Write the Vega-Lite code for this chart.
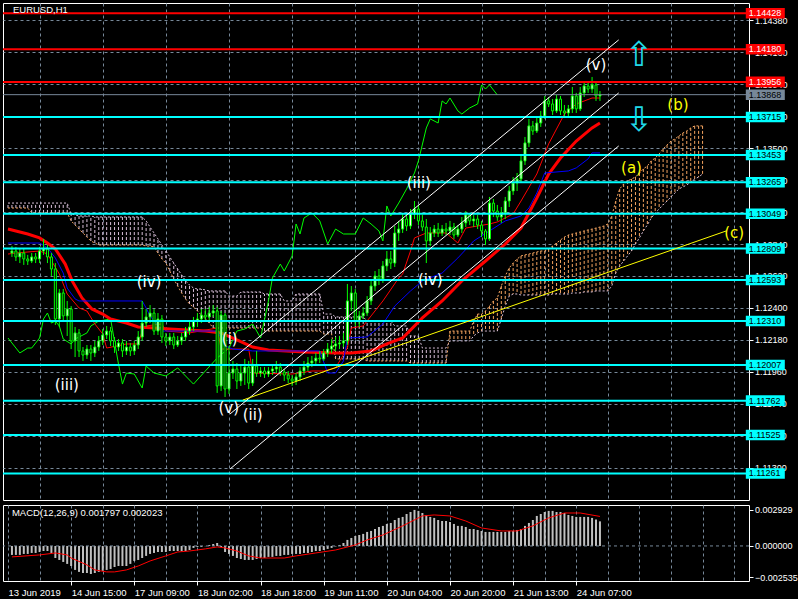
{
"$schema":"https://vega.github.io/schema/vega-lite/v6.json",
"background":"#000000",
"padding":{"left":2,"top":2,"right":0,"bottom":2},
"config":{
"view":{"stroke":"#FFFFFF","strokeWidth":1},
"axis":{"domain":false,"labelColor":"#FFFFFF","labelFont":"Liberation Sans","labelFontSize":9,"tickColor":"#FFFFFF","tickSize":4,"gridColor":"#778899","gridDash":[3,3],"gridOpacity":1,"gridWidth":1,"labelOverlap":false,"labelFlush":false,"labelBound":false},
"concat":{"spacing":3}
},
"datasets":{
"candles":[
{"i":1,"o":1.12778,"h":1.12826,"l":1.12751,"c":1.12792},{"i":2,"o":1.12792,"h":1.12820,"l":1.12723,"c":1.12751},{"i":3,"o":1.12751,"h":1.12806,"l":1.12709,"c":1.12778},{"i":4,"o":1.12778,"h":1.12806,"l":1.12696,"c":1.12737},{"i":5,"o":1.12737,"h":1.12765,"l":1.12696,"c":1.12723},{"i":6,"o":1.12723,"h":1.12778,"l":1.12709,"c":1.12751},{"i":7,"o":1.12751,"h":1.12778,"l":1.12709,"c":1.12737},{"i":8,"o":1.12737,"h":1.12820,"l":1.12709,"c":1.12792},{"i":9,"o":1.12792,"h":1.12875,"l":1.12765,"c":1.12806},{"i":10,"o":1.12806,"h":1.12833,"l":1.12709,"c":1.12751},
{"i":11,"o":1.12751,"h":1.12778,"l":1.12620,"c":1.12668},{"i":12,"o":1.12668,"h":1.12709,"l":1.12283,"c":1.12324},{"i":13,"o":1.12324,"h":1.12530,"l":1.12269,"c":1.12503},{"i":14,"o":1.12503,"h":1.12530,"l":1.12310,"c":1.12345},{"i":15,"o":1.12345,"h":1.12448,"l":1.12207,"c":1.12393},{"i":16,"o":1.12393,"h":1.12413,"l":1.12117,"c":1.12173},{"i":17,"o":1.12173,"h":1.12269,"l":1.12062,"c":1.12228},{"i":18,"o":1.12228,"h":1.12255,"l":1.12062,"c":1.12104},{"i":19,"o":1.12104,"h":1.12131,"l":1.12035,"c":1.12076},{"i":20,"o":1.12076,"h":1.12145,"l":1.12049,"c":1.12117},
{"i":21,"o":1.12117,"h":1.12145,"l":1.12035,"c":1.12090},{"i":22,"o":1.12090,"h":1.12173,"l":1.12062,"c":1.12131},{"i":23,"o":1.12131,"h":1.12207,"l":1.12104,"c":1.12173},{"i":24,"o":1.12173,"h":1.12255,"l":1.12145,"c":1.12214},{"i":25,"o":1.12214,"h":1.12276,"l":1.12186,"c":1.12241},{"i":26,"o":1.12241,"h":1.12269,"l":1.12138,"c":1.12173},{"i":27,"o":1.12173,"h":1.12200,"l":1.12090,"c":1.12131},{"i":28,"o":1.12131,"h":1.12186,"l":1.12104,"c":1.12159},{"i":29,"o":1.12159,"h":1.12186,"l":1.12062,"c":1.12104},{"i":30,"o":1.12104,"h":1.12173,"l":1.12076,"c":1.12131},
{"i":31,"o":1.12131,"h":1.12159,"l":1.12069,"c":1.12104},{"i":32,"o":1.12104,"h":1.12173,"l":1.12076,"c":1.12145},{"i":33,"o":1.12145,"h":1.12241,"l":1.12117,"c":1.12200},{"i":34,"o":1.12200,"h":1.12448,"l":1.12173,"c":1.12296},{"i":35,"o":1.12296,"h":1.12393,"l":1.12269,"c":1.12338},{"i":36,"o":1.12338,"h":1.12420,"l":1.12296,"c":1.12365},{"i":37,"o":1.12365,"h":1.12393,"l":1.12214,"c":1.12241},{"i":38,"o":1.12241,"h":1.12365,"l":1.12214,"c":1.12324},{"i":39,"o":1.12324,"h":1.12351,"l":1.12159,"c":1.12200},{"i":40,"o":1.12200,"h":1.12228,"l":1.12138,"c":1.12173},
{"i":41,"o":1.12173,"h":1.12228,"l":1.12145,"c":1.12200},{"i":42,"o":1.12200,"h":1.12228,"l":1.12117,"c":1.12145},{"i":43,"o":1.12145,"h":1.12207,"l":1.12131,"c":1.12173},{"i":44,"o":1.12173,"h":1.12228,"l":1.12145,"c":1.12200},{"i":45,"o":1.12200,"h":1.12269,"l":1.12173,"c":1.12241},{"i":46,"o":1.12241,"h":1.12310,"l":1.12214,"c":1.12269},{"i":47,"o":1.12269,"h":1.12338,"l":1.12241,"c":1.12310},{"i":48,"o":1.12310,"h":1.12365,"l":1.12269,"c":1.12324},{"i":49,"o":1.12324,"h":1.12393,"l":1.12296,"c":1.12351},{"i":50,"o":1.12351,"h":1.12393,"l":1.12310,"c":1.12338},
{"i":51,"o":1.12338,"h":1.12407,"l":1.12310,"c":1.12365},{"i":52,"o":1.12365,"h":1.12420,"l":1.12338,"c":1.12379},{"i":53,"o":1.12379,"h":1.12407,"l":1.11815,"c":1.11863},{"i":54,"o":1.11863,"h":1.12379,"l":1.11828,"c":1.12351},{"i":55,"o":1.12351,"h":1.12365,"l":1.11787,"c":1.11842},{"i":56,"o":1.11842,"h":1.12138,"l":1.11808,"c":1.11952},{"i":57,"o":1.11952,"h":1.12035,"l":1.11911,"c":1.11980},{"i":58,"o":1.11980,"h":1.12021,"l":1.11842,"c":1.11897},{"i":59,"o":1.11897,"h":1.12000,"l":1.11863,"c":1.11952},{"i":60,"o":1.11952,"h":1.12049,"l":1.11870,"c":1.11993},
{"i":61,"o":1.11993,"h":1.12035,"l":1.11842,"c":1.11883},{"i":62,"o":1.11883,"h":1.12049,"l":1.11863,"c":1.12000},{"i":63,"o":1.12000,"h":1.12104,"l":1.11925,"c":1.11952},{"i":64,"o":1.11952,"h":1.11993,"l":1.11925,"c":1.11966},{"i":65,"o":1.11966,"h":1.11993,"l":1.11918,"c":1.11945},{"i":66,"o":1.11945,"h":1.11993,"l":1.11925,"c":1.11966},{"i":67,"o":1.11966,"h":1.12007,"l":1.11938,"c":1.11980},{"i":68,"o":1.11980,"h":1.12035,"l":1.11952,"c":1.11993},{"i":69,"o":1.11993,"h":1.12021,"l":1.11932,"c":1.11959},{"i":70,"o":1.11959,"h":1.11980,"l":1.11897,"c":1.11938},
{"i":71,"o":1.11938,"h":1.11966,"l":1.11883,"c":1.11911},{"i":72,"o":1.11911,"h":1.11938,"l":1.11863,"c":1.11897},{"i":73,"o":1.11897,"h":1.11952,"l":1.11870,"c":1.11925},{"i":74,"o":1.11925,"h":1.11993,"l":1.11897,"c":1.11966},{"i":75,"o":1.11966,"h":1.12035,"l":1.11938,"c":1.11993},{"i":76,"o":1.11993,"h":1.12062,"l":1.11966,"c":1.12021},{"i":77,"o":1.12021,"h":1.12069,"l":1.11993,"c":1.12035},{"i":78,"o":1.12035,"h":1.12090,"l":1.12007,"c":1.12055},{"i":79,"o":1.12055,"h":1.12104,"l":1.12021,"c":1.12049},{"i":80,"o":1.12049,"h":1.12117,"l":1.12035,"c":1.12090},
{"i":81,"o":1.12090,"h":1.12159,"l":1.12062,"c":1.12117},{"i":82,"o":1.12117,"h":1.12186,"l":1.12090,"c":1.12138},{"i":83,"o":1.12138,"h":1.12200,"l":1.12104,"c":1.12152},{"i":84,"o":1.12152,"h":1.12207,"l":1.12117,"c":1.12159},{"i":85,"o":1.12159,"h":1.12228,"l":1.12131,"c":1.12173},{"i":86,"o":1.12173,"h":1.12565,"l":1.12145,"c":1.12448},{"i":87,"o":1.12448,"h":1.12551,"l":1.12379,"c":1.12503},{"i":88,"o":1.12503,"h":1.12530,"l":1.12276,"c":1.12310},{"i":89,"o":1.12310,"h":1.12379,"l":1.12269,"c":1.12345},{"i":90,"o":1.12345,"h":1.12407,"l":1.12324,"c":1.12365},
{"i":91,"o":1.12365,"h":1.12482,"l":1.12345,"c":1.12448},{"i":92,"o":1.12448,"h":1.12586,"l":1.12420,"c":1.12551},{"i":93,"o":1.12551,"h":1.12654,"l":1.12517,"c":1.12620},{"i":94,"o":1.12620,"h":1.12668,"l":1.12558,"c":1.12599},{"i":95,"o":1.12599,"h":1.12723,"l":1.12572,"c":1.12689},{"i":96,"o":1.12689,"h":1.12792,"l":1.12654,"c":1.12737},{"i":97,"o":1.12737,"h":1.12792,"l":1.12668,"c":1.12709},{"i":98,"o":1.12709,"h":1.12964,"l":1.12682,"c":1.12916},{"i":99,"o":1.12916,"h":1.12999,"l":1.12861,"c":1.12943},{"i":100,"o":1.12943,"h":1.13054,"l":1.12916,"c":1.13012},
{"i":101,"o":1.13012,"h":1.13054,"l":1.12930,"c":1.12964},{"i":102,"o":1.12964,"h":1.13081,"l":1.12943,"c":1.13047},{"i":103,"o":1.13047,"h":1.13136,"l":1.13012,"c":1.13081},{"i":104,"o":1.13081,"h":1.13109,"l":1.12971,"c":1.12999},{"i":105,"o":1.12999,"h":1.13040,"l":1.12930,"c":1.12957},{"i":106,"o":1.12957,"h":1.13012,"l":1.12709,"c":1.12861},{"i":107,"o":1.12861,"h":1.12957,"l":1.12826,"c":1.12916},{"i":108,"o":1.12916,"h":1.12971,"l":1.12888,"c":1.12943},{"i":109,"o":1.12943,"h":1.12985,"l":1.12888,"c":1.12916},{"i":110,"o":1.12916,"h":1.12971,"l":1.12895,"c":1.12943},
{"i":111,"o":1.12943,"h":1.12985,"l":1.12902,"c":1.12930},{"i":112,"o":1.12930,"h":1.12999,"l":1.12902,"c":1.12957},{"i":113,"o":1.12957,"h":1.12985,"l":1.12875,"c":1.12902},{"i":114,"o":1.12902,"h":1.12971,"l":1.12888,"c":1.12943},{"i":115,"o":1.12943,"h":1.13026,"l":1.12916,"c":1.12985},{"i":116,"o":1.12985,"h":1.13067,"l":1.12957,"c":1.13040},{"i":117,"o":1.13040,"h":1.13054,"l":1.12971,"c":1.12999},{"i":118,"o":1.12999,"h":1.13040,"l":1.12957,"c":1.13012},{"i":119,"o":1.13012,"h":1.13040,"l":1.12943,"c":1.12971},{"i":120,"o":1.12971,"h":1.12999,"l":1.12888,"c":1.12930},
{"i":121,"o":1.12930,"h":1.12943,"l":1.12833,"c":1.12875},{"i":122,"o":1.12875,"h":1.13164,"l":1.12861,"c":1.13122},{"i":123,"o":1.13122,"h":1.13150,"l":1.13026,"c":1.13067},{"i":124,"o":1.13067,"h":1.13109,"l":1.12999,"c":1.13026},{"i":125,"o":1.13026,"h":1.13095,"l":1.12985,"c":1.13054},{"i":126,"o":1.13054,"h":1.13164,"l":1.13012,"c":1.13136},{"i":127,"o":1.13136,"h":1.13240,"l":1.13095,"c":1.13205},{"i":128,"o":1.13205,"h":1.13301,"l":1.13178,"c":1.13260},{"i":129,"o":1.13260,"h":1.13329,"l":1.13205,"c":1.13288},{"i":130,"o":1.13288,"h":1.13453,"l":1.13260,"c":1.13412},
{"i":131,"o":1.13412,"h":1.13577,"l":1.13384,"c":1.13536},{"i":132,"o":1.13536,"h":1.13701,"l":1.13508,"c":1.13653},{"i":133,"o":1.13653,"h":1.13687,"l":1.13591,"c":1.13618},{"i":134,"o":1.13618,"h":1.13715,"l":1.13604,"c":1.13673},{"i":135,"o":1.13673,"h":1.13756,"l":1.13646,"c":1.13721},{"i":136,"o":1.13721,"h":1.13859,"l":1.13701,"c":1.13825},{"i":137,"o":1.13825,"h":1.13852,"l":1.13783,"c":1.13804},{"i":138,"o":1.13804,"h":1.13838,"l":1.13728,"c":1.13756},{"i":139,"o":1.13756,"h":1.13866,"l":1.13742,"c":1.13838},{"i":140,"o":1.13838,"h":1.13859,"l":1.13728,"c":1.13756},
{"i":141,"o":1.13756,"h":1.13797,"l":1.13715,"c":1.13742},{"i":142,"o":1.13742,"h":1.13797,"l":1.13721,"c":1.13770},{"i":143,"o":1.13770,"h":1.13921,"l":1.13742,"c":1.13859},{"i":144,"o":1.13859,"h":1.13880,"l":1.13742,"c":1.13770},{"i":145,"o":1.13770,"h":1.13921,"l":1.13756,"c":1.13880},{"i":146,"o":1.13880,"h":1.13962,"l":1.13852,"c":1.13928},{"i":147,"o":1.13928,"h":1.13962,"l":1.13880,"c":1.13907},{"i":148,"o":1.13907,"h":1.13990,"l":1.13880,"c":1.13935},{"i":149,"o":1.13935,"h":1.13962,"l":1.13825,"c":1.13859},{"i":150,"o":1.13859,"h":1.13893,"l":1.13825,"c":1.13868}
],
"cloud":[
{"i":0,"a":1.13088,"b":1.13122},{"i":1,"a":1.13088,"b":1.13122},{"i":2,"a":1.13088,"b":1.13122},{"i":3,"a":1.13088,"b":1.13122},{"i":4,"a":1.13088,"b":1.13122},{"i":5,"a":1.13088,"b":1.13122},{"i":6,"a":1.13054,"b":1.13122},{"i":7,"a":1.13054,"b":1.13122},{"i":8,"a":1.13054,"b":1.13122},{"i":9,"a":1.13054,"b":1.13122},{"i":10,"a":1.13054,"b":1.13122},{"i":11,"a":1.13054,"b":1.13122},{"i":12,"a":1.13054,"b":1.13122},{"i":13,"a":1.13054,"b":1.13122},{"i":14,"a":1.13054,"b":1.13122},{"i":15,"a":1.13054,"b":1.13122},
{"i":16,"a":1.12999,"b":1.13047},{"i":17,"a":1.12971,"b":1.13040},{"i":18,"a":1.12943,"b":1.13033},{"i":19,"a":1.12916,"b":1.13033},{"i":20,"a":1.12888,"b":1.13033},{"i":21,"a":1.12861,"b":1.13033},{"i":22,"a":1.12847,"b":1.13026},{"i":23,"a":1.12833,"b":1.13026},{"i":24,"a":1.12833,"b":1.13026},{"i":25,"a":1.12833,"b":1.13026},{"i":26,"a":1.12833,"b":1.13026},{"i":27,"a":1.12833,"b":1.13026},{"i":28,"a":1.12833,"b":1.13026},{"i":29,"a":1.12833,"b":1.13026},{"i":30,"a":1.12833,"b":1.13026},{"i":31,"a":1.12833,"b":1.13026},{"i":32,"a":1.12833,"b":1.13026},{"i":33,"a":1.12833,"b":1.13026},{"i":34,"a":1.12833,"b":1.13026},
{"i":35,"a":1.12826,"b":1.12999},{"i":36,"a":1.12826,"b":1.12957},{"i":37,"a":1.12820,"b":1.12916},{"i":38,"a":1.12778,"b":1.12875},{"i":39,"a":1.12737,"b":1.12833},{"i":40,"a":1.12709,"b":1.12792},{"i":41,"a":1.12654,"b":1.12751},{"i":42,"a":1.12599,"b":1.12709},{"i":43,"a":1.12551,"b":1.12668},{"i":44,"a":1.12503,"b":1.12627},{"i":45,"a":1.12462,"b":1.12586},{"i":46,"a":1.12427,"b":1.12558},{"i":47,"a":1.12407,"b":1.12537},{"i":48,"a":1.12379,"b":1.12530},{"i":49,"a":1.12351,"b":1.12530},{"i":50,"a":1.12324,"b":1.12524},{"i":51,"a":1.12296,"b":1.12517},
{"i":52,"a":1.12262,"b":1.12517},{"i":53,"a":1.12262,"b":1.12517},{"i":54,"a":1.12262,"b":1.12517},{"i":55,"a":1.12262,"b":1.12517},{"i":56,"a":1.12262,"b":1.12482},{"i":57,"a":1.12262,"b":1.12482},{"i":58,"a":1.12262,"b":1.12482},{"i":59,"a":1.12262,"b":1.12510},{"i":60,"a":1.12262,"b":1.12510},{"i":61,"a":1.12262,"b":1.12510},{"i":62,"a":1.12262,"b":1.12510},{"i":63,"a":1.12262,"b":1.12510},{"i":64,"a":1.12262,"b":1.12510},
{"i":65,"a":1.12241,"b":1.12496},{"i":66,"a":1.12241,"b":1.12496},{"i":67,"a":1.12241,"b":1.12496},{"i":68,"a":1.12241,"b":1.12496},{"i":69,"a":1.12241,"b":1.12496},{"i":70,"a":1.12241,"b":1.12448},{"i":71,"a":1.12241,"b":1.12448},{"i":72,"a":1.12241,"b":1.12448},{"i":73,"a":1.12241,"b":1.12496},{"i":74,"a":1.12241,"b":1.12496},{"i":75,"a":1.12241,"b":1.12496},{"i":76,"a":1.12241,"b":1.12496},{"i":77,"a":1.12241,"b":1.12496},{"i":78,"a":1.12241,"b":1.12496},{"i":79,"a":1.12241,"b":1.12496},
{"i":80,"a":1.12221,"b":1.12358},{"i":81,"a":1.12221,"b":1.12358},{"i":82,"a":1.12221,"b":1.12358},{"i":83,"a":1.12049,"b":1.12338},{"i":84,"a":1.12049,"b":1.12338},{"i":85,"a":1.12049,"b":1.12338},{"i":86,"a":1.12049,"b":1.12338},{"i":87,"a":1.12049,"b":1.12338},{"i":88,"a":1.12049,"b":1.12338},{"i":89,"a":1.12049,"b":1.12338},{"i":90,"a":1.12049,"b":1.12338},
{"i":91,"a":1.12035,"b":1.12310},{"i":92,"a":1.12035,"b":1.12310},{"i":93,"a":1.12035,"b":1.12310},{"i":94,"a":1.12035,"b":1.12310},{"i":95,"a":1.12035,"b":1.12310},{"i":96,"a":1.12035,"b":1.12310},{"i":97,"a":1.12035,"b":1.12310},{"i":98,"a":1.12035,"b":1.12276},{"i":99,"a":1.12035,"b":1.12276},{"i":100,"a":1.12035,"b":1.12276},{"i":101,"a":1.12035,"b":1.12276},{"i":102,"a":1.12021,"b":1.12207},{"i":103,"a":1.12021,"b":1.12207},{"i":104,"a":1.12021,"b":1.12207},
{"i":105,"a":1.12021,"b":1.12124},{"i":106,"a":1.12021,"b":1.12124},{"i":107,"a":1.12021,"b":1.12124},{"i":108,"a":1.12021,"b":1.12124},{"i":109,"a":1.12021,"b":1.12124},{"i":110,"a":1.12021,"b":1.12124},{"i":111,"a":1.12021,"b":1.12124},
{"i":112,"a":1.12241,"b":1.12173},{"i":113,"a":1.12241,"b":1.12173},{"i":114,"a":1.12241,"b":1.12173},{"i":115,"a":1.12241,"b":1.12173},{"i":116,"a":1.12241,"b":1.12173},{"i":117,"a":1.12241,"b":1.12173},{"i":118,"a":1.12310,"b":1.12207},{"i":119,"a":1.12358,"b":1.12228},{"i":120,"a":1.12358,"b":1.12241},{"i":121,"a":1.12379,"b":1.12241},{"i":122,"a":1.12413,"b":1.12241},{"i":123,"a":1.12448,"b":1.12241},{"i":124,"a":1.12469,"b":1.12241},
{"i":125,"a":1.12551,"b":1.12324},{"i":126,"a":1.12620,"b":1.12413},{"i":127,"a":1.12675,"b":1.12482},{"i":128,"a":1.12709,"b":1.12496},{"i":129,"a":1.12737,"b":1.12496},{"i":130,"a":1.12758,"b":1.12489},{"i":131,"a":1.12765,"b":1.12489},{"i":132,"a":1.12771,"b":1.12489},{"i":133,"a":1.12778,"b":1.12489},{"i":134,"a":1.12785,"b":1.12489},{"i":135,"a":1.12792,"b":1.12489},{"i":136,"a":1.12792,"b":1.12489},{"i":137,"a":1.12806,"b":1.12489},
{"i":138,"a":1.12826,"b":1.12496},{"i":139,"a":1.12847,"b":1.12496},{"i":140,"a":1.12868,"b":1.12496},{"i":141,"a":1.12888,"b":1.12496},{"i":142,"a":1.12902,"b":1.12496},{"i":143,"a":1.12909,"b":1.12503},{"i":144,"a":1.12916,"b":1.12503},{"i":145,"a":1.12923,"b":1.12503},{"i":146,"a":1.12930,"b":1.12510},{"i":147,"a":1.12937,"b":1.12510},{"i":148,"a":1.12943,"b":1.12510},{"i":149,"a":1.12950,"b":1.12517},{"i":150,"a":1.12957,"b":1.12517},{"i":151,"a":1.12964,"b":1.12517},{"i":152,"a":1.12978,"b":1.12517},
{"i":153,"a":1.13033,"b":1.12551},{"i":154,"a":1.13136,"b":1.12640},{"i":155,"a":1.13219,"b":1.12689},{"i":156,"a":1.13253,"b":1.12723},{"i":157,"a":1.13274,"b":1.12758},{"i":158,"a":1.13288,"b":1.12792},{"i":159,"a":1.13301,"b":1.12840},{"i":160,"a":1.13329,"b":1.12882},{"i":161,"a":1.13357,"b":1.12930},{"i":162,"a":1.13377,"b":1.12971},{"i":163,"a":1.13412,"b":1.13019},{"i":164,"a":1.13432,"b":1.13054},
{"i":165,"a":1.13460,"b":1.13081},{"i":166,"a":1.13494,"b":1.13109},{"i":167,"a":1.13522,"b":1.13136},{"i":168,"a":1.13549,"b":1.13164},{"i":169,"a":1.13563,"b":1.13191},{"i":170,"a":1.13584,"b":1.13219},{"i":171,"a":1.13604,"b":1.13233},{"i":172,"a":1.13618,"b":1.13246},{"i":173,"a":1.13639,"b":1.13267},{"i":174,"a":1.13653,"b":1.13288},{"i":175,"a":1.13653,"b":1.13301},{"i":176,"a":1.13653,"b":1.13322}
],
"thick":[{"i":0,"p":1.12943},{"i":5,"p":1.12909},{"i":8,"p":1.12882},{"i":10,"p":1.12847},{"i":12,"p":1.12806},{"i":14.5,"p":1.12702},{"i":16.25,"p":1.12586},{"i":18.75,"p":1.12469},{"i":21.25,"p":1.12393},{"i":24,"p":1.12358},{"i":26,"p":1.12324},{"i":30,"p":1.12296},{"i":33,"p":1.12269},{"i":37,"p":1.12262},{"i":41,"p":1.12255},{"i":50,"p":1.12241},{"i":54,"p":1.12228},{"i":58,"p":1.12180},{"i":62,"p":1.12131},{"i":66,"p":1.12111},{"i":75,"p":1.12097},{"i":83,"p":1.12090},{"i":87,"p":1.12090},{"i":92,"p":1.12104},{"i":96,"p":1.12152},{"i":100,"p":1.12193},{"i":105,"p":1.12331},{"i":110,"p":1.12448},{"i":115,"p":1.12586},{"i":121,"p":1.12723},{"i":126,"p":1.12840},{"i":130,"p":1.12950},{"i":134,"p":1.13157},{"i":137,"p":1.13322},{"i":140,"p":1.13432},{"i":144,"p":1.13549},{"i":148,"p":1.13639},{"i":150,"p":1.13673}],
"thin":[{"i":0,"p":1.12771},{"i":2,"p":1.12778},{"i":8,"p":1.12792},{"i":10,"p":1.12771},{"i":13,"p":1.12634},{"i":15,"p":1.12496},{"i":18,"p":1.12400},{"i":20,"p":1.12379},{"i":22,"p":1.12290},{"i":24,"p":1.12221},{"i":25,"p":1.12124},{"i":30,"p":1.12152},{"i":33,"p":1.12152},{"i":34,"p":1.12241},{"i":35,"p":1.12276},{"i":39,"p":1.12290},{"i":40,"p":1.12241},{"i":46,"p":1.12228},{"i":53,"p":1.12262},{"i":54,"p":1.12117},{"i":61,"p":1.12117},{"i":62,"p":1.11952},{"i":72,"p":1.11945},{"i":77,"p":1.11966},{"i":80,"p":1.11966},{"i":83,"p":1.11987},{"i":86,"p":1.12124},{"i":87,"p":1.12262},{"i":90,"p":1.12276},{"i":92,"p":1.12345},{"i":95,"p":1.12448},{"i":99,"p":1.12606},{"i":100,"p":1.12634},{"i":102,"p":1.12792},{"i":103,"p":1.12882},{"i":106,"p":1.12916},{"i":111,"p":1.12916},{"i":114,"p":1.12847},{"i":116,"p":1.12950},{"i":119,"p":1.12964},{"i":122,"p":1.12978},{"i":124,"p":1.12992},{"i":128,"p":1.13047},{"i":130,"p":1.13136},{"i":134,"p":1.13322},{"i":137,"p":1.13529},{"i":141,"p":1.13735},{"i":144,"p":1.13804},{"i":148,"p":1.13845},{"i":150,"p":1.13845}],
"blue":[{"i":0,"p":1.12847},{"i":8,"p":1.12847},{"i":10,"p":1.12813},{"i":12,"p":1.12744},{"i":14,"p":1.12640},{"i":15,"p":1.12537},{"i":17,"p":1.12462},{"i":18,"p":1.12448},{"i":34,"p":1.12448},{"i":35,"p":1.12400},{"i":36,"p":1.12345},{"i":39,"p":1.12241},{"i":53,"p":1.12241},{"i":54,"p":1.12193},{"i":55,"p":1.12138},{"i":57,"p":1.12117},{"i":62,"p":1.12104},{"i":79,"p":1.12104},{"i":81,"p":1.11952},{"i":83,"p":1.11952},{"i":85,"p":1.12035},{"i":86,"p":1.12193},{"i":91,"p":1.12200},{"i":95,"p":1.12290},{"i":98,"p":1.12413},{"i":102,"p":1.12517},{"i":105,"p":1.12586},{"i":110,"p":1.12640},{"i":114,"p":1.12744},{"i":118,"p":1.12861},{"i":122,"p":1.12930},{"i":126,"p":1.12999},{"i":130,"p":1.13033},{"i":132,"p":1.13088},{"i":134,"p":1.13191},{"i":136,"p":1.13329},{"i":142,"p":1.13343},{"i":144,"p":1.13364},{"i":147,"p":1.13426},{"i":148,"p":1.13467},{"i":150,"p":1.13467}],
"chikou":[{"i":0,"p":1.12193},{"i":3,"p":1.12090},{"i":5,"p":1.12124},{"i":6,"p":1.12124},{"i":8,"p":1.12193},{"i":9,"p":1.12324},{"i":10,"p":1.12365},{"i":11,"p":1.12296},{"i":12,"p":1.12310},{"i":13,"p":1.12276},{"i":14,"p":1.12186},{"i":16,"p":1.12152},{"i":17,"p":1.12186},{"i":20,"p":1.12228},{"i":21,"p":1.12276},{"i":23,"p":1.12310},{"i":26,"p":1.12324},{"i":28,"p":1.12014},{"i":29,"p":1.11876},{"i":30,"p":1.11952},{"i":32,"p":1.11945},{"i":34,"p":1.11849},{"i":35,"p":1.12000},{"i":37,"p":1.11952},{"i":40,"p":1.11932},{"i":43,"p":1.11987},{"i":47,"p":1.11876},{"i":50,"p":1.11966},{"i":53,"p":1.12055},{"i":56,"p":1.12124},{"i":58,"p":1.12241},{"i":60,"p":1.12255},{"i":62,"p":1.12290},{"i":64,"p":1.12193},{"i":66,"p":1.12448},{"i":67,"p":1.12606},{"i":69,"p":1.12702},{"i":70,"p":1.12654},{"i":72,"p":1.12758},{"i":73,"p":1.12978},{"i":74,"p":1.12909},{"i":75,"p":1.13019},{"i":77,"p":1.13054},{"i":79,"p":1.12999},{"i":81,"p":1.12840},{"i":83,"p":1.12943},{"i":85,"p":1.12909},{"i":88,"p":1.12909},{"i":90,"p":1.13019},{"i":92,"p":1.12978},{"i":94,"p":1.12930},{"i":95,"p":1.12861},{"i":96,"p":1.13102},{"i":97,"p":1.13033},{"i":99,"p":1.13122},{"i":101,"p":1.13219},{"i":103,"p":1.13329},{"i":104,"p":1.13412},{"i":106,"p":1.13639},{"i":107,"p":1.13701},{"i":109,"p":1.13673},{"i":110,"p":1.13825},{"i":111,"p":1.13804},{"i":112,"p":1.13845},{"i":114,"p":1.13756},{"i":115,"p":1.13735},{"i":117,"p":1.13777},{"i":119,"p":1.13804},{"i":120,"p":1.13935},{"i":121,"p":1.13907},{"i":122,"p":1.13935},{"i":124,"p":1.13866}],
"channel":[{"i":56.25,"p":1.12035,"s":"t"},{"i":154.75,"p":1.14245,"s":"t"},{"i":56.25,"p":1.11670,"s":"m"},{"i":154.75,"p":1.13880,"s":"m"},{"i":56.25,"p":1.11291,"s":"b"},{"i":154.75,"p":1.13515,"s":"b"}],
"trend":[{"i":59.5,"p":1.11766},{"i":182,"p":1.12930}],
"levels":[{"p":1.14428,"t":"1.14428","k":"r"},{"p":1.14180,"t":"1.14180","k":"r"},{"p":1.13956,"t":"1.13956","k":"r"},{"p":1.13868,"t":"1.13868","k":"g"},{"p":1.13715,"t":"1.13715","k":"c"},{"p":1.13453,"t":"1.13453","k":"c"},{"p":1.13265,"t":"1.13265","k":"c"},{"p":1.13049,"t":"1.13049","k":"c"},{"p":1.12809,"t":"1.12809","k":"c"},{"p":1.12593,"t":"1.12593","k":"c"},{"p":1.12310,"t":"1.12310","k":"c"},{"p":1.12007,"t":"1.12007","k":"c"},{"p":1.11762,"t":"1.11762","k":"c"},{"p":1.11525,"t":"1.11525","k":"c"},{"p":1.11261,"t":"1.11261","k":"c"}],
"waves":[{"i":14.9,"p":1.11870,"t":"(iii)","k":"w"},{"i":35.75,"p":1.12579,"t":"(iv)","k":"w"},{"i":56.2,"p":1.12186,"t":"(i)","k":"w"},{"i":55.95,"p":1.11708,"t":"(v)","k":"w"},{"i":62,"p":1.11663,"t":"(ii)","k":"w"},{"i":104.1,"p":1.13257,"t":"(iii)","k":"w"},{"i":107,"p":1.12592,"t":"(iv)","k":"w"},{"i":149,"p":1.14072,"t":"(v)","k":"w"},{"i":169.75,"p":1.13797,"t":"(b)","k":"y"},{"i":158,"p":1.13360,"t":"(a)","k":"y"},{"i":184,"p":1.12918,"t":"(c)","k":"y"}],
"arrows":[{"i":159.9,"p":1.14134,"t":"⇧"},{"i":159.9,"p":1.13687,"t":"⇩"}],
"title":[{"i":1.25,"p":1.14451,"t":"EURUSD,H1"}],
"macd":[
{"i":1,"h":-0.00073},{"i":2,"h":-0.00073},{"i":3,"h":-0.00073},{"i":4,"h":-0.00065},{"i":5,"h":-0.00065},{"i":6,"h":-0.00057},{"i":7,"h":-0.00057},{"i":8,"h":-0.00049},{"i":9,"h":-0.00041},{"i":10,"h":-0.00041},{"i":11,"h":-0.00057},{"i":12,"h":-0.00098},{"i":13,"h":-0.00114},{"i":14,"h":-0.00130},{"i":15,"h":-0.00146},{"i":16,"h":-0.00163},{"i":17,"h":-0.00195},{"i":18,"h":-0.00211},{"i":19,"h":-0.00220},{"i":20,"h":-0.00220},
{"i":21,"h":-0.00228},{"i":22,"h":-0.00220},{"i":23,"h":-0.00211},{"i":24,"h":-0.00203},{"i":25,"h":-0.00195},{"i":26,"h":-0.00187},{"i":27,"h":-0.00171},{"i":28,"h":-0.00163},{"i":29,"h":-0.00163},{"i":30,"h":-0.00163},{"i":31,"h":-0.00146},{"i":32,"h":-0.00122},{"i":33,"h":-0.00114},{"i":34,"h":-0.00098},{"i":35,"h":-0.00081},{"i":36,"h":-0.00065},{"i":37,"h":-0.00057},{"i":38,"h":-0.00049},{"i":39,"h":-0.00049},{"i":40,"h":-0.00049},
{"i":41,"h":-0.00041},{"i":42,"h":-0.00041},{"i":43,"h":-0.00041},{"i":44,"h":-0.00041},{"i":45,"h":-0.00041},{"i":46,"h":-0.00033},{"i":47,"h":-0.00016},{"i":48,"h":-0.00008},{"i":49,"h":-0.00008},{"i":50,"h":-0.00002},{"i":51,"h":0.00008},{"i":52,"h":0.00016},{"i":53,"h":0.00024},{"i":54,"h":-0.00008},{"i":55,"h":-0.00049},{"i":56,"h":-0.00065},{"i":57,"h":-0.00081},{"i":58,"h":-0.00098},{"i":59,"h":-0.00106},{"i":60,"h":-0.00114},
{"i":61,"h":-0.00114},{"i":62,"h":-0.00114},{"i":63,"h":-0.00106},{"i":64,"h":-0.00098},{"i":65,"h":-0.00098},{"i":66,"h":-0.00089},{"i":67,"h":-0.00089},{"i":68,"h":-0.00081},{"i":69,"h":-0.00081},{"i":70,"h":-0.00073},{"i":71,"h":-0.00073},{"i":72,"h":-0.00065},{"i":73,"h":-0.00065},{"i":74,"h":-0.00065},{"i":75,"h":-0.00057},{"i":76,"h":-0.00057},{"i":77,"h":-0.00049},{"i":78,"h":-0.00041},{"i":79,"h":-0.00041},{"i":80,"h":-0.00033},
{"i":81,"h":-0.00024},{"i":82,"h":-0.00016},{"i":83,"h":-0.00004},{"i":84,"h":0.00008},{"i":85,"h":0.00024},{"i":86,"h":0.00049},{"i":87,"h":0.00065},{"i":88,"h":0.00081},{"i":89,"h":0.00089},{"i":90,"h":0.00098},{"i":91,"h":0.00114},{"i":92,"h":0.00122},{"i":93,"h":0.00138},{"i":94,"h":0.00154},{"i":95,"h":0.00163},{"i":96,"h":0.00179},{"i":97,"h":0.00187},{"i":98,"h":0.00211},{"i":99,"h":0.00228},{"i":100,"h":0.00236},
{"i":101,"h":0.00260},{"i":102,"h":0.00276},{"i":103,"h":0.00293},{"i":104,"h":0.00285},{"i":105,"h":0.00268},{"i":106,"h":0.00252},{"i":107,"h":0.00236},{"i":108,"h":0.00228},{"i":109,"h":0.00211},{"i":110,"h":0.00203},{"i":111,"h":0.00203},{"i":112,"h":0.00195},{"i":113,"h":0.00179},{"i":114,"h":0.00163},{"i":115,"h":0.00163},{"i":116,"h":0.00154},{"i":117,"h":0.00138},{"i":118,"h":0.00138},{"i":119,"h":0.00130},{"i":120,"h":0.00122},
{"i":121,"h":0.00114},{"i":122,"h":0.00114},{"i":123,"h":0.00114},{"i":124,"h":0.00114},{"i":125,"h":0.00114},{"i":126,"h":0.00114},{"i":127,"h":0.00122},{"i":128,"h":0.00122},{"i":129,"h":0.00130},{"i":130,"h":0.00138},{"i":131,"h":0.00163},{"i":132,"h":0.00187},{"i":133,"h":0.00211},{"i":134,"h":0.00244},{"i":135,"h":0.00260},{"i":136,"h":0.00276},{"i":137,"h":0.00285},{"i":138,"h":0.00285},{"i":139,"h":0.00276},{"i":140,"h":0.00276},
{"i":141,"h":0.00268},{"i":142,"h":0.00252},{"i":143,"h":0.00244},{"i":144,"h":0.00236},{"i":145,"h":0.00236},{"i":146,"h":0.00236},{"i":147,"h":0.00236},{"i":148,"h":0.00228},{"i":149,"h":0.00215},{"i":150,"h":0.00200}
],
"signal":[{"i":1,"s":-0.00089},{"i":8,"s":-0.00073},{"i":12,"s":-0.00057},{"i":15,"s":-0.00073},{"i":16,"s":-0.00098},{"i":20,"s":-0.00154},{"i":22,"s":-0.00195},{"i":25,"s":-0.00211},{"i":27,"s":-0.00211},{"i":30,"s":-0.00195},{"i":33,"s":-0.00163},{"i":36,"s":-0.00122},{"i":40,"s":-0.00081},{"i":43,"s":-0.00049},{"i":46,"s":-0.00041},{"i":50,"s":-0.00024},{"i":53,"s":-0.00008},{"i":55,"s":-0.00016},{"i":58,"s":-0.00041},{"i":61,"s":-0.00081},{"i":64,"s":-0.00098},{"i":70,"s":-0.00098},{"i":73,"s":-0.00081},{"i":78,"s":-0.00057},{"i":83,"s":-0.00033},{"i":88,"s":0.00008},{"i":91,"s":0.00049},{"i":95,"s":0.00089},{"i":100,"s":0.00163},{"i":105,"s":0.00244},{"i":108,"s":0.00252},{"i":112,"s":0.00244},{"i":116,"s":0.00203},{"i":120,"s":0.00146},{"i":125,"s":0.00122},{"i":129,"s":0.00122},{"i":133,"s":0.00163},{"i":137,"s":0.00228},{"i":141,"s":0.00268},{"i":145,"s":0.00268},{"i":150,"s":0.00240}],
"macdtitle":[{"i":1,"v":0.00268,"t":"MACD(12,26,9) 0.001797 0.002023"}]
},
"vconcat":[
{
"width":746,"height":497,
"encoding":{
 "y":{"field":"p","type":"quantitative","scale":{"domain":[1.11078,1.14499],"nice":false,"zero":false},"title":null,
  "axis":{"orient":"right","title":null,"values":[1.113,1.1152,1.1174,1.1196,1.1218,1.124,1.1262,1.1284,1.1306,1.1328,1.135,1.1372,1.1394,1.1416,1.1438],"format":".5f","grid":true,"tickSize":4,"labelPadding":1.5}}
},
"layer":[
{"data":{"name":"cloud"},"mark":{"type":"rule","strokeDash":[3,2],"strokeWidth":1,"clip":true},
 "encoding":{
  "x":{"field":"i","type":"quantitative","title":null,"scale":{"domain":[0,186.5],"nice":false,"zero":false},
   "axis":{"orient":"bottom","title":null,"values":[8,16,24,32,40,48,56,64,72,80,88,96,104,112,120,128,136,144,152,160,168,176,184],"grid":true,"labels":false,"ticks":false,"domain":false}},
  "y":{"field":"a","type":"quantitative","title":null},"y2":{"field":"b"},
  "color":{"condition":{"test":"datum.a > datum.b","value":"#F4A460"},"value":"#D8BFD8"}}},
{"data":{"name":"cloud"},"mark":{"type":"line","strokeDash":[2,2],"strokeWidth":1,"color":"#F4A460","clip":true},
 "encoding":{"x":{"field":"i","type":"quantitative","title":null},"y":{"field":"a","type":"quantitative","title":null}}},
{"data":{"name":"cloud"},"mark":{"type":"line","strokeDash":[2,2],"strokeWidth":1,"color":"#D8BFD8","clip":true},
 "encoding":{"x":{"field":"i","type":"quantitative","title":null},"y":{"field":"b","type":"quantitative","title":null}}},
{"data":{"name":"chikou"},"mark":{"type":"line","strokeWidth":1,"color":"#00FF00","clip":true},
 "encoding":{"x":{"field":"i","type":"quantitative","title":null}}},
{"data":{"name":"thick"},"mark":{"type":"line","strokeWidth":3,"color":"#FF0000","clip":true},
 "encoding":{"x":{"field":"i","type":"quantitative","title":null}}},
{"data":{"name":"thin"},"mark":{"type":"line","strokeWidth":1,"color":"#FF0000","clip":true},
 "encoding":{"x":{"field":"i","type":"quantitative","title":null}}},
{"data":{"name":"blue"},"mark":{"type":"line","strokeWidth":1,"color":"#0000FF","clip":true},
 "encoding":{"x":{"field":"i","type":"quantitative","title":null}}},
{"data":{"name":"candles"},"mark":{"type":"rule","color":"#00FF00","strokeWidth":1,"clip":true},
 "encoding":{"x":{"field":"i","type":"quantitative","title":null},"y":{"field":"l","type":"quantitative","title":null},"y2":{"field":"h"}}},
{"data":{"name":"candles"},"mark":{"type":"bar","size":2,"stroke":"#00FF00","strokeWidth":1,"clip":true},
 "encoding":{"x":{"field":"i","type":"quantitative","title":null},"y":{"field":"o","type":"quantitative","title":null},"y2":{"field":"c"},
  "fill":{"condition":{"test":"datum.c >= datum.o","value":"#FFFFFF"},"value":"#000000"}}},
{"data":{"name":"levels"},"mark":{"type":"rule","clip":true},
 "encoding":{
  "color":{"field":"k","type":"nominal","scale":{"domain":["r","g","c"],"range":["#FF0000","#778899","#00FFFF"]},"legend":null},
  "strokeWidth":{"condition":{"test":"datum.k == 'g'","value":1},"value":2}}},
{"data":{"name":"channel"},"mark":{"type":"line","strokeWidth":1,"color":"#FFFFFF","clip":true},
 "encoding":{"x":{"field":"i","type":"quantitative","title":null},"detail":{"field":"s"}}},
{"data":{"name":"trend"},"mark":{"type":"line","strokeWidth":1,"color":"#FFFF00","clip":true},
 "encoding":{"x":{"field":"i","type":"quantitative","title":null}}},
{"data":{"name":"levels"},"mark":{"type":"point","shape":"M-1,-0.27H1V0.27H-1Z","filled":true,"size":1521,"opacity":1},
 "encoding":{"x":{"datum":191.9,"type":"quantitative"},
  "color":{"field":"k","type":"nominal","scale":{"domain":["r","g","c"],"range":["#FF0000","#778899","#00FFFF"]},"legend":null}}},
{"data":{"name":"levels"},"mark":{"type":"text","align":"left","baseline":"middle","font":"Liberation Sans","fontSize":9},
 "encoding":{"x":{"datum":187.7,"type":"quantitative"},"text":{"field":"t"},
  "color":{"condition":{"test":"datum.k == 'r'","value":"#FFFFFF"},"value":"#000000"}}},
{"data":{"name":"waves"},"mark":{"type":"text","align":"center","baseline":"middle","font":"DejaVu Sans","fontSize":15},
 "encoding":{"x":{"field":"i","type":"quantitative","title":null},"text":{"field":"t"},
  "color":{"condition":{"test":"datum.k == 'y'","value":"#FFFF00"},"value":"#FFFFFF"}}},
{"data":{"name":"arrows"},"mark":{"type":"text","align":"center","baseline":"middle","font":"DejaVu Sans","fontSize":34,"color":"#20D8E8"},
 "encoding":{"x":{"field":"i","type":"quantitative","title":null},"text":{"field":"t"}}},
{"data":{"name":"title"},"mark":{"type":"text","align":"left","baseline":"middle","font":"Liberation Sans","fontSize":9.5,"color":"#FFFFFF"},
 "encoding":{"x":{"field":"i","type":"quantitative","title":null},"text":{"field":"t"}}}
]
},
{
"width":746,"height":76,
"encoding":{
 "x":{"field":"i","type":"quantitative","scale":{"domain":[0,186.5],"nice":false,"zero":false},"title":null,
  "axis":{"orient":"bottom","title":null,"values":[0,8,16,24,32,40,48,56,64,72,80,88,96,104,112,120,128,136,144,152,160,168,176,184],"grid":true,"labelAlign":"left","labelPadding":2,"labelBaseline":"top","labelFontSize":9.5,
   "tickOpacity":{"condition":{"test":"datum.value % 16 == 0 && datum.value <= 144 && datum.value > 0","value":1},"value":0},
   "labelExpr":"(datum.value % 16 == 0 && datum.value <= 144) ? ['13 Jun 2019','14 Jun 15:00','17 Jun 09:00','18 Jun 02:00','18 Jun 18:00','19 Jun 11:00','20 Jun 04:00','20 Jun 20:00','21 Jun 13:00','24 Jun 07:00'][datum.value / 16] : ''"}},
 "y":{"field":"h","type":"quantitative","scale":{"domain":[-0.00285,0.00333],"nice":false,"zero":false},"title":null,
  "axis":{"orient":"right","title":null,"values":[0.002929,0,-0.002535],"format":".6f","grid":false,"tickSize":4,"labelPadding":1.5}}
},
"layer":[
{"data":{"name":"macd"},"mark":{"type":"bar","size":2,"color":"#C0C0C0","clip":true},
 "encoding":{"y2":{"datum":0}}},
{"data":{"values":[{"z":0}]},"mark":{"type":"rule","strokeDash":[3,3],"color":"#778899","strokeWidth":1},
 "encoding":{"x":null,"y":{"field":"z","type":"quantitative","title":null}}},
{"data":{"name":"signal"},"mark":{"type":"line","strokeWidth":1,"color":"#FF0000","clip":true},
 "encoding":{"y":{"field":"s","type":"quantitative","title":null}}},
{"data":{"name":"macdtitle"},"mark":{"type":"text","align":"left","baseline":"middle","font":"Liberation Sans","fontSize":9.5,"color":"#FFFFFF"},
 "encoding":{"y":{"field":"v","type":"quantitative","title":null},"text":{"field":"t"}}}
]
}
]
}
